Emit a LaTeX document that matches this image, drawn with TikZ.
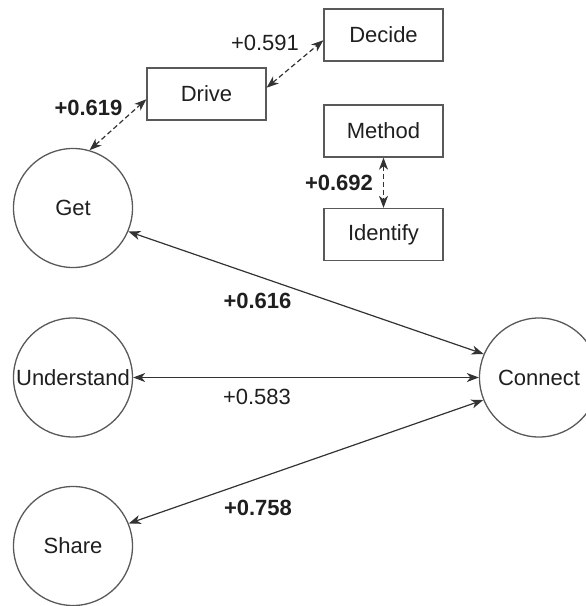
\documentclass[tikz,border=0pt]{standalone}
\usepackage{fontspec}
\setmainfont{Liberation Sans}
\usetikzlibrary{arrows.meta}
\begin{document}
\begin{tikzpicture}[x=1pt,y=-1pt,
  every node/.style={font=\fontsize{22}{26}\selectfont, text=black!88},
  concept/.style={circle, draw=black!65, line width=1.3pt, minimum size=119pt, inner sep=0pt},
  stepbox/.style={rectangle, draw=black!65, line width=1.3pt, minimum width=119pt, minimum height=52pt, inner sep=0pt},
  link/.style={draw=black!80, line width=1.2pt, {Stealth[length=12pt,width=9pt,inset=3.5pt]}-{Stealth[length=12pt,width=9pt,inset=3.5pt]}},
  dashlink/.style={link, dash pattern=on 5pt off 3pt},
  weight/.style={inner sep=0pt},
  strong/.style={weight, font=\fontsize{22}{26}\selectfont\bfseries}
]
\useasboundingbox (0,0) rectangle (586,606);

% concepts
\node[concept] (get) at (73,208) {Get};
\node[concept] (understand) at (73,377.5) {Understand};
\node[concept] (share) at (73,546) {Share};
\node[concept] (connect) at (539,377.5) {Connect};

% boxes
\node[stepbox] (drive) at (206.5,94) {Drive};
\node[stepbox] (decide) at (383.5,35) {Decide};
\node[stepbox] (method) at (383.5,131) {Method};
\node[stepbox] (identify) at (383.5,234.5) {Identify};

% dashed links
\draw[dashlink] (get.74) -- (drive.185);
\draw[dashlink] (drive.6) -- (decide.185);
\draw[dashlink] (method.south) -- (identify.north);

% solid links
\draw[link] (get.-23) -- (connect.157);
\draw[link] (understand.east) -- (connect.west);
\draw[link] (share.22) -- (connect.202);

% weights
\node[strong] (w1) at (88.5,108) {+0.619};
\node[weight] (w2) at (265,43) {+0.591};
\node[strong] (w3) at (339,183) {+0.692};
\node[strong] (w4) at (257.5,301) {+0.616};
\node[weight] (w5) at (257,397) {+0.583};
\node[strong] (w6) at (258,508) {+0.758};
\end{tikzpicture}
\end{document}
